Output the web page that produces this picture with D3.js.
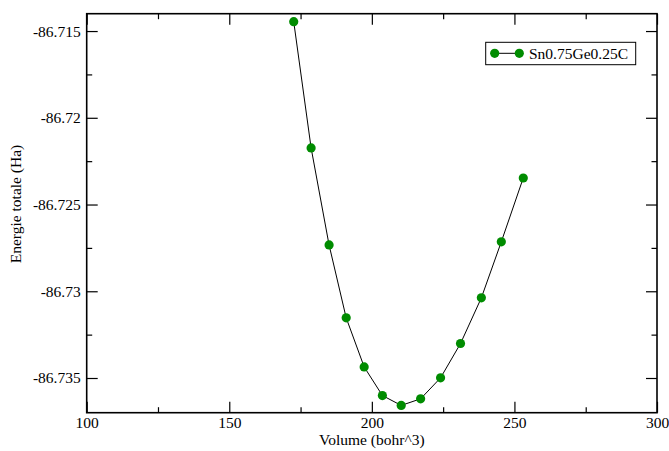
<!DOCTYPE html>
<html>
<head>
<meta charset="utf-8">
<script src="https://cdn.jsdelivr.net/npm/d3@7"></script>
<style>
  body { margin: 0; background: #fff; }
  svg { display: block; }
  svg text { font-family: "Liberation Serif", "DejaVu Serif", serif !important; fill: #000; }
</style>
</head>
<body>
<script>
// volumes (bohr^3) and total energies (Ha)
const volumes = [172.6, 178.7, 185.0, 191.0, 197.3, 203.7, 210.3, 217.1, 224.1, 231.1, 238.4, 245.4, 253.1]
const energies = [-86.71446, -86.72174, -86.72733, -86.73153, -86.73436, -86.73601, -86.73658, -86.7362, -86.73499, -86.73301, -86.73038, -86.72715, -86.72347]
const xTicks = [100, 150, 200, 250, 300]
const yTicks = [-86.735, -86.73, -86.725, -86.72, -86.715]
const xMinor = [125, 175, 225, 275]
const yMinor = [-86.7325, -86.7275, -86.7225, -86.7175]
const seriesName = "Sn0.75Ge0.25C"

const width = 669, height = 451
const marginLeft = 86.7, marginRight = 12, marginTop = 13.7, marginBottom = 38.3
const green = "#008c00"

const x = d3.scaleLinear().domain([100, 300]).range([marginLeft, width - marginRight])
const y = d3.scaleLinear().domain([-86.737, -86.714]).range([height - marginBottom, marginTop])

const svg = d3.select("body").append("svg")
    .attr("width", width)
    .attr("height", height)
    .attr("viewBox", [0, 0, width, height])

const fmt = d => String(+d.toFixed(3))

// ticks on all four sides, pointing inward
const plotBottom = y.range()[0], plotTop = y.range()[1]
const plotLeft = x.range()[0], plotRight = x.range()[1]

function ticks(axis, pos, vals, size, labels, pad) {
    const horiz = axis === d3.axisBottom || axis === d3.axisTop
    const g = svg.append("g")
        .attr("transform", horiz ? `translate(0,${pos})` : `translate(${pos},0)`)
        .call(axis(horiz ? x : y)
            .tickValues(vals).tickSize(-size).tickPadding(pad || 3)
            .tickFormat(labels ? fmt : ""))
    g.select(".domain").remove()
    return g
}

ticks(d3.axisBottom, plotBottom, xTicks, 11, true, 4)
ticks(d3.axisBottom, plotBottom, xMinor, 5.5)
ticks(d3.axisTop, plotTop, xTicks, 11)
ticks(d3.axisTop, plotTop, xMinor, 5.5)
ticks(d3.axisLeft, plotLeft, yTicks, 11, true, 6)
ticks(d3.axisLeft, plotLeft, yMinor, 5.5)
ticks(d3.axisRight, plotRight, yTicks, 11)
ticks(d3.axisRight, plotRight, yMinor, 5.5)

svg.selectAll(".tick line").attr("stroke", "#000").attr("stroke-width", 1.2)
svg.selectAll(".tick text").attr("font-size", 15.5)

// frame
svg.append("rect")
    .attr("x", plotLeft).attr("y", plotTop)
    .attr("width", plotRight - plotLeft).attr("height", plotBottom - plotTop)
    .attr("fill", "none").attr("stroke", "#000").attr("stroke-width", 1.6)

// curve
const pts = volumes.map((v, i) => [v, energies[i]])
svg.append("path")
    .datum(pts)
    .attr("fill", "none")
    .attr("stroke", "#000")
    .attr("stroke-width", 1)
    .attr("d", d3.line().x(d => x(d[0])).y(d => y(d[1])))

svg.append("g")
    .attr("fill", green)
    .selectAll("circle")
    .data(pts)
    .join("circle")
    .attr("cx", d => x(d[0]))
    .attr("cy", d => y(d[1]))
    .attr("r", 4.6)

// axis labels
svg.append("text")
    .attr("x", (plotLeft + plotRight) / 2)
    .attr("y", 445)
    .attr("text-anchor", "middle")
    .attr("font-size", 15.5)
    .text("Volume (bohr^3)")

svg.append("text")
    .attr("transform", "translate(21,204) rotate(-90)")
    .attr("text-anchor", "middle")
    .attr("font-size", 15.5)
    .text("Energie totale (Ha)")

// legend
const lg = svg.append("g").attr("transform", "translate(485.7,42.3)")
lg.append("rect")
    .attr("width", 150).attr("height", 22.4)
    .attr("fill", "#fff").attr("stroke", "#000").attr("stroke-width", 1)
lg.append("line")
    .attr("x1", 9).attr("x2", 33.6).attr("y1", 11).attr("y2", 11)
    .attr("stroke", "#000").attr("stroke-width", 1)
lg.selectAll("circle")
    .data([9, 33.6])
    .join("circle")
    .attr("cx", d => d).attr("cy", 11).attr("r", 4.6).attr("fill", green)
lg.append("text")
    .attr("x", 43.3).attr("y", 16.5)
    .attr("font-size", 15.5)
    .text(seriesName)
</script>
</body>
</html>
